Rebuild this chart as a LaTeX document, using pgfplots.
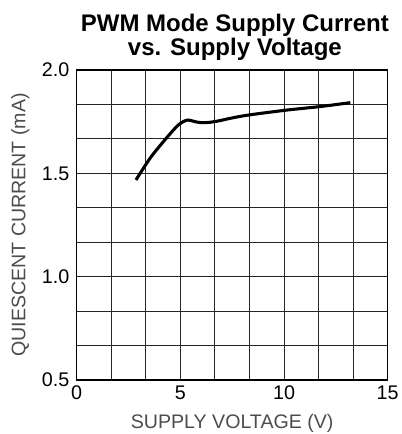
\documentclass[border=0pt]{standalone}
\usepackage{pgfplots}
\pgfplotsset{compat=1.18}
\usepackage{fontspec}
\setmainfont{Liberation Sans}
\begin{document}
\begin{tikzpicture}[x=1pt,y=1pt]
\begin{axis}[
  name=ax,
  scale only axis,
  width=233.25pt, height=232.5pt,
  xmin=0, xmax=15, ymin=0.5, ymax=2.0,
  xtick={0,5,10,15},
  ytick={0.5,1.0,1.5,2.0},
  minor xtick={1.6667,3.3333,6.6667,8.3333,11.6667,13.3333},
  minor ytick={0.6667,0.8333,1.1667,1.3333,1.6667,1.8333},
  yticklabel style={/pgf/number format/fixed, /pgf/number format/fixed zerofill, /pgf/number format/precision=1},
  /pgf/number format/assume math mode=true,
  grid=both,
  major grid style={black!85, line width=0.6pt},
  minor grid style={black!85, line width=0.6pt},
  major tick length=0pt, minor tick length=0pt,
  axis line style={black, line width=0.8pt},
  tick label style={font=\fontsize{14.8}{16}\selectfont, black},
  xticklabel style={yshift=-1pt},
  yticklabel style={xshift=-2pt},
  xlabel={SUPPLY VOLTAGE (V)},
  ylabel={QUIESCENT CURRENT (mA)},
  label style={font=\fontsize{14.7}{16}\selectfont, text=black!70},
  xlabel style={yshift=-4pt},
  ylabel style={yshift=2.5pt},
  title={PWM Mode Supply Current\\vs. Supply Voltage},
  title style={font=\bfseries\fontsize{18}{17.8}\selectfont, align=center, at={(0.5,1)}, anchor=south, yshift=-2.5pt, xshift=2pt},
]
\addplot[black, line width=2.3pt, smooth, tension=0.5] coordinates {
(2.86,1.468) (3.54,1.573) (4.18,1.653) (4.82,1.726) (5.14,1.750) (5.38,1.758)
(5.71,1.750) (6.03,1.745) (6.43,1.747) (6.91,1.755) (7.40,1.766) (8.28,1.782)
(10.13,1.806) (11.74,1.823) (13.2,1.842)
};
\end{axis}
\pgfresetboundingbox
\path ([shift={(-57.5pt,-40.5pt)}]ax.south west) rectangle ([shift={(10pt,52.5pt)}]ax.north east);
\end{tikzpicture}
\end{document}
